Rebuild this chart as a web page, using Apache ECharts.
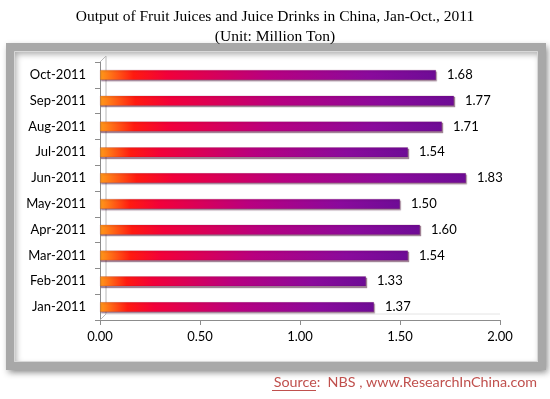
<!DOCTYPE html>
<html>
<head>
<meta charset="utf-8">
<script src="https://cdn.jsdelivr.net/npm/echarts@6/dist/echarts.min.js"></script>
<style>
  html, body { margin: 0; padding: 0; background: #fff; }
  #chart { width: 550px; height: 399px; }
</style>
</head>
<body>
<div id="chart"></div>
<script>
// months, bottom to top
var months = ['Jan-2011', 'Feb-2011', 'Mar-2011', 'Apr-2011', 'May-2011',
  'Jun-2011', 'Jul-2011', 'Aug-2011', 'Sep-2011', 'Oct-2011']
// output, million ton
var output = [1.37, 1.33, 1.54, 1.60, 1.50, 1.83, 1.54, 1.71, 1.77, 1.68]

var myChart = echarts.init(document.getElementById('chart'))

// bar colour: orange -> red -> magenta -> purple
var barColor = {
  type: 'linear', x: 0, y: 0, x2: 1, y2: 0,
  colorStops: [
    { offset: 0, color: '#ff9a1a' },
    { offset: 0.1, color: '#ff1a10' },
    { offset: 0.2, color: '#f2003a' },
    { offset: 0.5, color: '#b80080' },
    { offset: 0.8, color: '#8a0a9c' },
    { offset: 1, color: '#6e0c96' }
  ]
}

var option = {
  backgroundColor: '#fff',
  animation: false,
  title: [
    {
      text: 'Output of Fruit Juices and Juice Drinks in China, Jan-Oct., 2011',
      left: 'center', top: 4,
      textStyle: { fontFamily: 'Liberation Serif', fontSize: 15.5, fontWeight: 'normal', color: '#000' }
    },
    {
      text: '(Unit: Million Ton)',
      left: 'center', top: 24,
      textStyle: { fontFamily: 'Liberation Serif', fontSize: 15.5, fontWeight: 'normal', color: '#000' }
    }
  ],
  graphic: [
    // bevelled frame
    {
      type: 'rect', z: -10,
      shape: { x: 10, y: 47, width: 532, height: 319 },
      style: {
        fill: '#fff', stroke: '#a8a8a8', lineWidth: 8,
        shadowBlur: 6, shadowColor: 'rgba(0,0,0,0.35)', shadowOffsetX: 2, shadowOffsetY: 3
      }
    },
    {
      type: 'rect', z: -9,
      shape: { x: 14.5, y: 51.5, width: 523, height: 310 },
      style: { fill: 'none', stroke: '#d8d8d8', lineWidth: 1 }
    },
    // 3d wall edges
    {
      type: 'polyline', z: 1,
      shape: { points: [[100, 62], [106, 56], [106, 314], [100, 320]] },
      style: { fill: 'none', stroke: '#b8b8b8', lineWidth: 1 }
    },
    {
      type: 'line', z: 1,
      shape: { x1: 106, y1: 314, x2: 500, y2: 314 },
      style: { stroke: '#e4e4e4', lineWidth: 1 }
    },
    {
      type: 'text', right: 13, top: 375,
      style: {
        text: 'Source:  NBS , www.ResearchInChina.com',
        fontFamily: 'Lato', fontSize: 14.3, fill: '#c0504d'
      }
    },
    {
      type: 'line', z: 5,
      shape: { x1: 272, y1: 390.5, x2: 316, y2: 390.5 },
      style: { stroke: '#c0504d', lineWidth: 1 }
    }
  ],
  grid: {
    left: 100, right: 50, top: 62, bottom: 79
  },
  xAxis: {
    type: 'value', min: 0, max: 2, interval: 0.5,
    axisLine: { show: true, lineStyle: { color: '#8c8c8c' } },
    axisTick: { show: true, length: 5, lineStyle: { color: '#8c8c8c' } },
    splitLine: { show: false },
    axisLabel: {
      margin: 10, fontFamily: 'Lato', fontSize: 13, color: '#000',
      formatter: function (v) { return v.toFixed(2) }
    }
  },
  yAxis: {
    type: 'category',
    data: months,
    axisLine: { show: true, lineStyle: { color: '#8c8c8c' } },
    axisTick: { show: true, length: 5, lineStyle: { color: '#8c8c8c' } },
    axisLabel: { margin: 14, fontFamily: 'Lato', fontSize: 13, color: '#000' }
  },
  series: [
    {
      type: 'bar',
      data: output,
      barWidth: 10,
      itemStyle: {
        color: barColor,
        borderColor: 'rgba(90,0,60,0.35)', borderWidth: 0.5,
        shadowColor: 'rgba(60,0,40,0.45)', shadowOffsetY: 1.5, shadowOffsetX: 1, shadowBlur: 1
      },
      label: {
        show: true, position: 'right', distance: 11,
        fontFamily: 'Lato', fontSize: 13, color: '#000',
        formatter: function (p) { return p.value.toFixed(2) }
      }
    }
  ]
}

myChart.setOption(option)
</script>
</body>
</html>
